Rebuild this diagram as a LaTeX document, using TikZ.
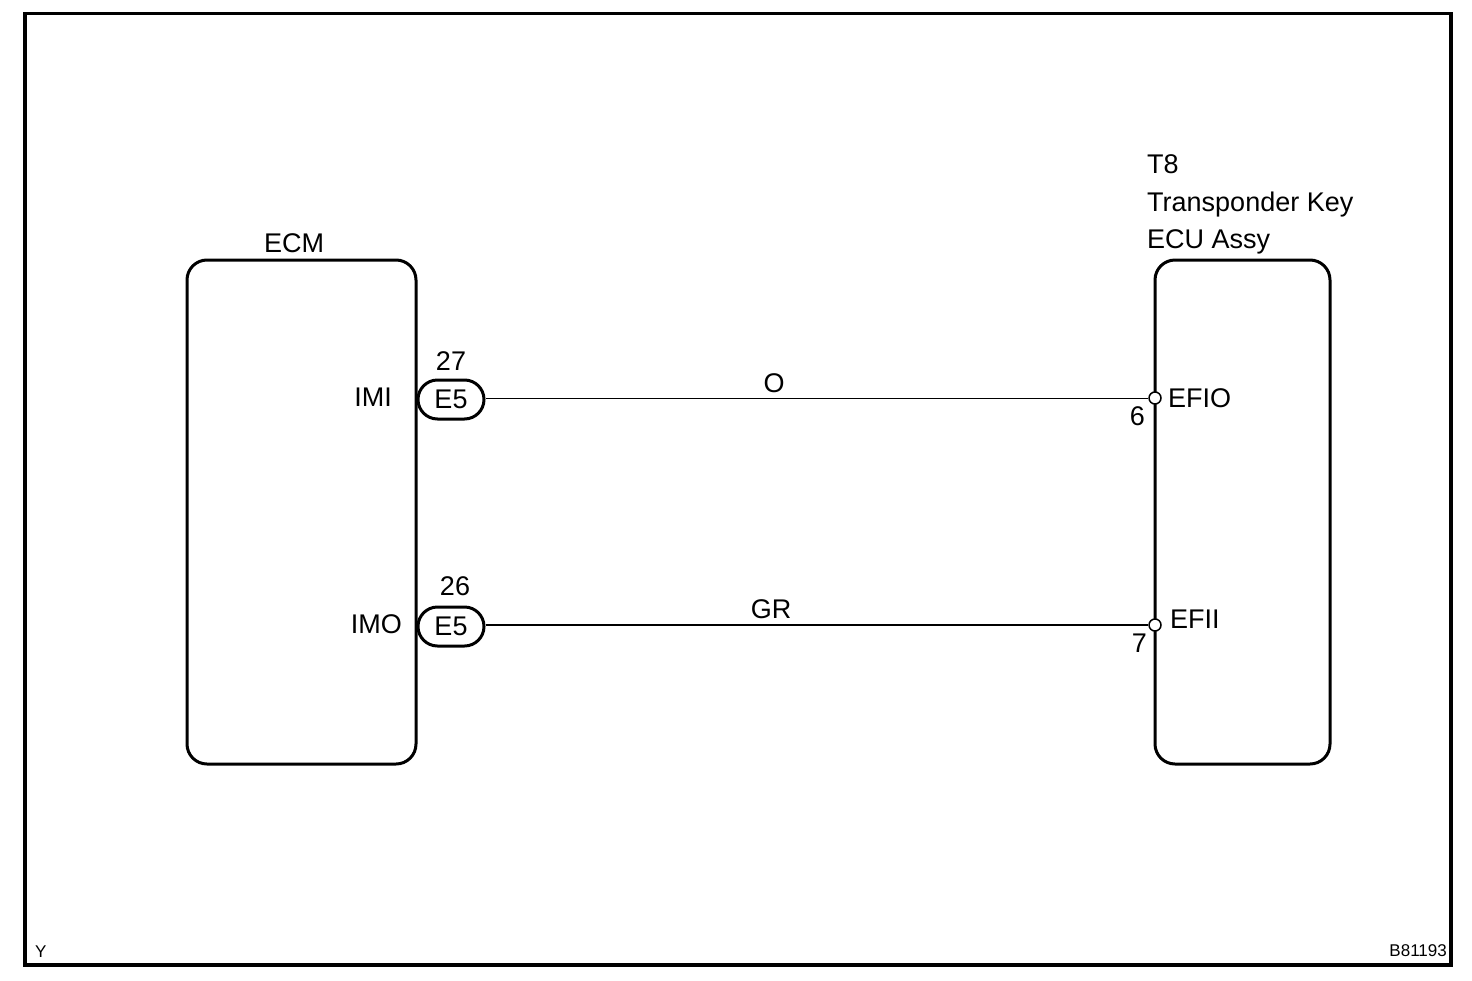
\documentclass[tikz,border=0pt]{standalone}
\usepackage{fontspec}
\setmainfont{Liberation Sans}
\usetikzlibrary{shapes.misc}
\begin{document}
\begin{tikzpicture}[x=1pt,y=-1pt,
  font=\fontsize{27}{32}\selectfont,
  lbl/.style={inner sep=0pt},
  unitbox/.style={draw,line width=3pt,rounded corners=20pt,inner sep=0pt},
  pill/.style={draw,line width=3pt,rounded rectangle,minimum width=66pt,minimum height=39pt,inner sep=0pt},
  pin/.style={draw,circle,fill=white,line width=1.5pt,minimum size=12pt,inner sep=0pt},
  smallt/.style={inner sep=0pt,font=\fontsize{17}{20}\selectfont}]
\useasboundingbox (0,0) rectangle (1472,980);
\fill[white] (0,0) rectangle (1472,980);
\node[draw,line width=3.5pt,minimum width=1426pt,minimum height=951.5pt,inner sep=0pt] (frame) at (738,489.25) {};
% boxes
\node[unitbox,minimum width=229pt,minimum height=504pt] (ecm) at (301.5,512) {};
\node[unitbox,minimum width=175pt,minimum height=504pt] (ecu) at (1242.5,512) {};
\node[lbl,anchor=base] (ecmlbl) at (294,252) {ECM};
\node[lbl,anchor=base west] (t8) at (1147,173) {T8};
\node[lbl,anchor=base west] (tk) at (1147,211) {Transponder Key};
\node[lbl,anchor=base west] (ea) at (1147,248) {ECU Assy};
% connectors
\node[pill] (p1) at (451,399.5) {E5};
\node[pill] (p2) at (451,626.5) {E5};
\node[lbl,anchor=base] (n27) at (451,370) {27};
\node[lbl,anchor=base] (n26) at (455,595) {26};
\node[lbl,anchor=base east] (imi) at (392,406) {IMI};
\node[lbl,anchor=base east] (imo) at (402,633) {IMO};
% pins
\node[pin] (c1) at (1155,398) {};
\node[pin] (c2) at (1155,625) {};
\node[lbl,anchor=base west] (efio) at (1168,407) {EFIO};
\node[lbl,anchor=base west] (efii) at (1170,628) {EFII};
\node[lbl,anchor=base east] (n6) at (1145,425) {6};
\node[lbl,anchor=base east] (n7) at (1147,652) {7};
% wires
\draw[line width=0.9pt] (p1.east |- c1) -- (c1.west);
\draw[line width=2pt] (p2.east |- c2) -- (c2.west);
\node[lbl,anchor=base] (wo) at (774,392) {O};
\node[lbl,anchor=base] (wgr) at (771,618) {GR};
% footer
\node[smallt,anchor=base west] (y) at (35,957) {Y};
\node[smallt,anchor=base east] (code) at (1447,956) {B81193};
\end{tikzpicture}
\end{document}
